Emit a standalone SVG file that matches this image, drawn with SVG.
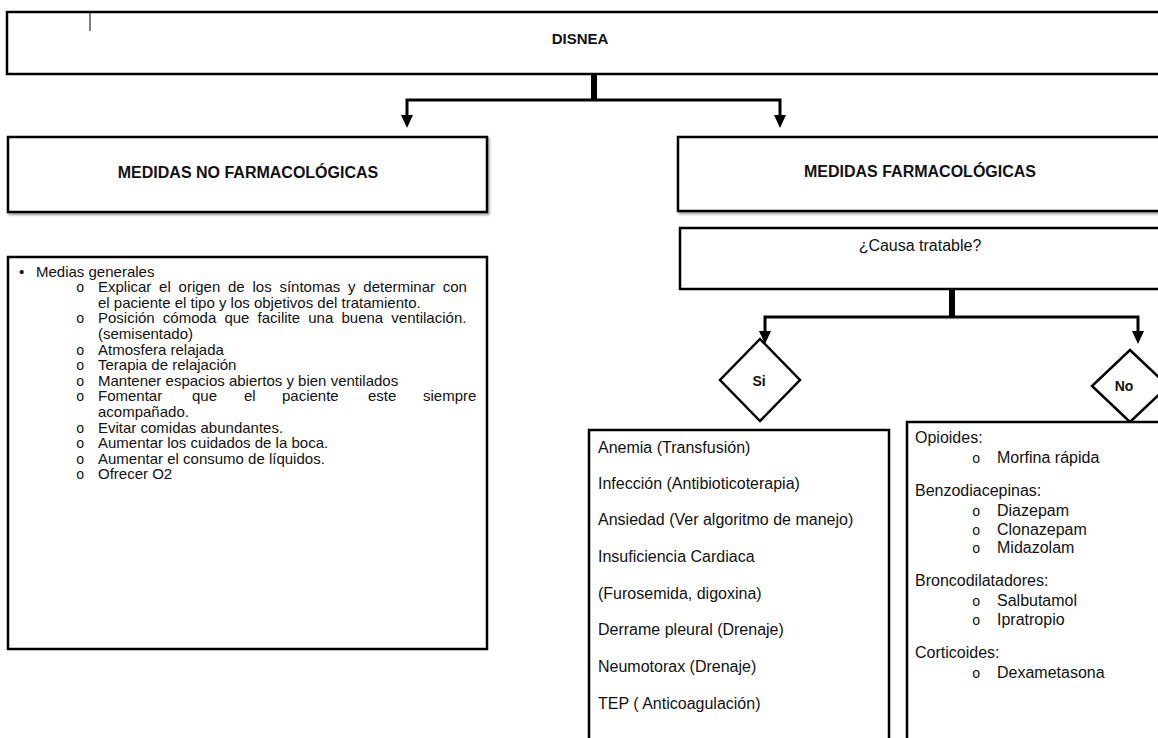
<svg xmlns="http://www.w3.org/2000/svg" width="1158" height="738" viewBox="0 0 1158 738">
<style>
.box{fill:#fff;stroke:#000;stroke-width:2.5}
.ln{fill:none;stroke:#000;stroke-width:3}
.stem{fill:none;stroke:#000;stroke-width:6}
.ah{fill:#000}
.h{font-family:"Liberation Sans",Arial,sans-serif;font-weight:bold;font-size:16px;fill:#111;text-anchor:middle}
.t{font-family:"Liberation Sans",Arial,sans-serif;font-size:16px;fill:#111}
.t2{font-family:"Liberation Sans",Arial,sans-serif;font-size:15px;fill:#111}
.o{font-family:"Liberation Mono","Courier New",monospace;font-size:14px;fill:#111}
</style>
<defs>
<filter id="sh" x="-5%" y="-5%" width="110%" height="120%">
<feDropShadow dx="1.5" dy="2" stdDeviation="1.2" flood-color="#000" flood-opacity="0.35"/>
</filter>
</defs>
<rect width="1158" height="738" fill="#fff"/>

<g id="disnea">
<rect class="box" x="7" y="12" width="1170" height="62"/>
<line x1="90" y1="13" x2="90" y2="31" stroke="#000" stroke-width="1"/>
<text class="h" x="580" y="44" style="font-size:15px">DISNEA</text>
</g>

<g id="no-farmacologicas">
<rect class="box" x="8" y="137" width="479" height="75" filter="url(#sh)"/>
<text class="h" x="248" y="178">MEDIDAS NO FARMACOLÓGICAS</text>
</g>

<g id="farmacologicas">
<rect class="box" x="678" y="137" width="500" height="74" filter="url(#sh)"/>
<text class="h" x="920" y="177">MEDIDAS FARMACOLÓGICAS</text>
</g>

<g id="medias-generales">
<rect class="box" x="8" y="257" width="479" height="392"/>
<text class="t2" x="19" y="276.5">•</text>
<text class="t2" x="36" y="276.5">Medias generales</text>
<text class="o" x="76" y="292.1">o</text>
<text class="t2" x="98" y="292.1" word-spacing="3.6">Explicar el origen de los síntomas y determinar con</text>
<text class="t2" x="98" y="307.7">el paciente el tipo y los objetivos del tratamiento.</text>
<text class="o" x="76" y="323.3">o</text>
<text class="t2" x="98" y="323.3" word-spacing="4">Posición cómoda que facilite una buena ventilación.</text>
<text class="t2" x="98" y="338.9">(semisentado)</text>
<text class="o" x="76" y="354.5">o</text>
<text class="t2" x="98" y="354.5">Atmosfera relajada</text>
<text class="o" x="76" y="370.1">o</text>
<text class="t2" x="98" y="370.1">Terapia de relajación</text>
<text class="o" x="76" y="385.7">o</text>
<text class="t2" x="98" y="385.7">Mantener espacios abiertos y bien ventilados</text>
<text class="o" x="76" y="401.3">o</text>
<text class="t2" y="401.3"><tspan x="98">Fomentar</tspan><tspan x="192">que</tspan><tspan x="244">el</tspan><tspan x="282">paciente</tspan><tspan x="368">este</tspan><tspan x="423">siempre</tspan></text>
<text class="t2" x="98" y="416.9">acompañado.</text>
<text class="o" x="76" y="432.5">o</text>
<text class="t2" x="98" y="432.5">Evitar comidas abundantes.</text>
<text class="o" x="76" y="448.1">o</text>
<text class="t2" x="98" y="448.1">Aumentar los cuidados de la boca.</text>
<text class="o" x="76" y="463.7">o</text>
<text class="t2" x="98" y="463.7">Aumentar el consumo de líquidos.</text>
<text class="o" x="76" y="479.3">o</text>
<text class="t2" x="98" y="479.3">Ofrecer O2</text>
</g>

<g id="causa-tratable">
<rect class="box" x="680" y="228" width="500" height="61"/>
<text class="t" x="920" y="251" text-anchor="middle">¿Causa tratable?</text>
</g>

<g id="si">
<polygon class="box" points="760,339 800,380 760,421 720,380"/>
<text class="h" x="759" y="386" style="font-size:14px">Si</text>
</g>

<g id="no">
<polygon class="box" points="1130,350 1168,386 1130,422 1092,386"/>
<text class="h" x="1124" y="391" style="font-size:14px">No</text>
</g>

<g id="causas-tratables">
<rect class="box" x="589" y="430" width="300" height="320"/>
<text class="t" x="598" y="453">Anemia (Transfusión)</text>
<text class="t" x="598" y="489">Infección (Antibioticoterapia)</text>
<text class="t" x="598" y="525">Ansiedad (Ver algoritmo de manejo)</text>
<text class="t" x="598" y="562">Insuficiencia Cardiaca</text>
<text class="t" x="598" y="599">(Furosemida, digoxina)</text>
<text class="t" x="598" y="635">Derrame pleural (Drenaje)</text>
<text class="t" x="598" y="672">Neumotorax (Drenaje)</text>
<text class="t" x="598" y="709">TEP ( Anticoagulación)</text>
</g>

<g id="tratamiento-sintomatico">
<rect class="box" x="907" y="422" width="300" height="330"/>
<text class="t" x="915" y="443">Opioides:</text>
<text class="o" x="972" y="463">o</text>
<text class="t" x="997" y="463">Morfina rápida</text>
<text class="t" x="915" y="496">Benzodiacepinas:</text>
<text class="o" x="972" y="516">o</text>
<text class="t" x="997" y="516">Diazepam</text>
<text class="o" x="972" y="534.5">o</text>
<text class="t" x="997" y="534.5">Clonazepam</text>
<text class="o" x="972" y="553">o</text>
<text class="t" x="997" y="553">Midazolam</text>
<text class="t" x="915" y="586">Broncodilatadores:</text>
<text class="o" x="972" y="606">o</text>
<text class="t" x="997" y="606">Salbutamol</text>
<text class="o" x="972" y="624.5">o</text>
<text class="t" x="997" y="624.5">Ipratropio</text>
<text class="t" x="915" y="657.5">Corticoides:</text>
<text class="o" x="972" y="677.5">o</text>
<text class="t" x="997" y="677.5">Dexametasona</text>
</g>

<g id="connectors">
<line class="stem" x1="594" y1="74" x2="594" y2="101"/>
<path class="ln" d="M407,117 L407,100 L780,100 L780,117"/>
<polygon class="ah" points="401,115 413,115 407,128"/>
<polygon class="ah" points="774,115 786,115 780,128"/>
<line class="stem" x1="952" y1="289" x2="952" y2="318"/>
<path class="ln" d="M765,333 L765,317 L1138,317 L1138,333"/>
<polygon class="ah" points="759,331 771,331 765,344"/>
<polygon class="ah" points="1132,331 1144,331 1138,344"/>
</g>
</svg>
